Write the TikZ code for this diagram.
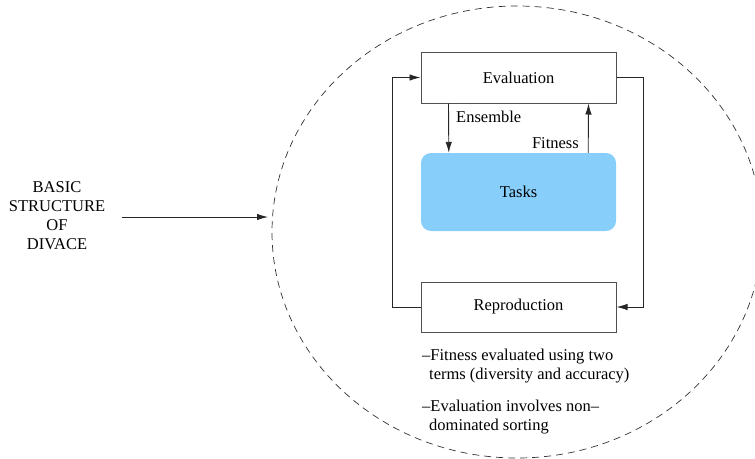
\documentclass[tikz,border=0pt]{standalone}
\usepackage{fontspec}
\setmainfont{Liberation Serif}
\usetikzlibrary{arrows.meta}
\definecolor{taskblue}{HTML}{87CEFA}
\definecolor{boxedge}{HTML}{505050}
\tikzset{
  procbox/.style={draw=boxedge, line width=1pt, minimum width=195pt, inner sep=0pt,
    font=\fontsize{16.5}{19}\selectfont},
  taskbox/.style={fill=taskblue, rounded corners=10pt, minimum width=195pt, minimum height=78pt,
    inner sep=0pt, font=\fontsize{16.5}{19}\selectfont},
  flow/.style={draw=black!85, line width=0.9pt, -{Latex[length=11pt,width=6.5pt]}},
  lbl/.style={inner sep=0pt, font=\fontsize{16.5}{19}\selectfont},
  note/.style={inner sep=0pt, align=left, anchor=north west, font=\fontsize{16.5}{19}\selectfont},
  title/.style={inner sep=0pt, align=center, font=\fontsize{16.5}{19}\selectfont},
}
\begin{document}
\begin{tikzpicture}[x=1pt, y=-1pt]
  \useasboundingbox (0,0) rectangle (755,458);

  % dashed outline around the DIVACE loop
  \draw[dashed, dash pattern=on 7pt off 5pt, line width=0.7pt, black!80] (517,232) ellipse [x radius=245, y radius=226];

  % main blocks
  \node[procbox, minimum height=51pt] (eval) at (518.5,77.5) {Evaluation};
  \node[taskbox] (tasks) at (518.5,192) {Tasks};
  \node[procbox, minimum height=50pt] (repro) at (518.5,307) {Reproduction};

  % inner exchange between evaluation and tasks
  \draw[flow] ([xshift=28pt]eval.south west) -- ([xshift=28pt]tasks.north west);
  \draw[flow] ([xshift=-28pt]tasks.north east) -- ([xshift=-28pt]eval.south east);
  \node[lbl, anchor=west] (ens) at (456,117) {Ensemble};
  \node[lbl, anchor=east] (fit) at (579,143) {Fitness};

  % outer loop
  \draw[flow] (repro.west) -- ++(-28,0) |- (eval.west);
  \draw[flow] (eval.east) -- ++(27,0) |- (repro.east);

  % notes
  \node[note] (n1) at (422,349) {--Fitness evaluated using two\\\hspace*{7pt}terms (diversity and accuracy)};
  \node[note] (n2) at (422,400) {--Evaluation involves non--\\\hspace*{7pt}dominated sorting};

  % title and pointer
  \node[title] (ttl) at (57,216) {BASIC\\STRUCTURE\\OF\\DIVACE};
  \coordinate (pstart) at (122,217);
  \coordinate (pend) at (268,217);
  \draw[flow] (pstart) -- (pend);
\end{tikzpicture}
\end{document}
